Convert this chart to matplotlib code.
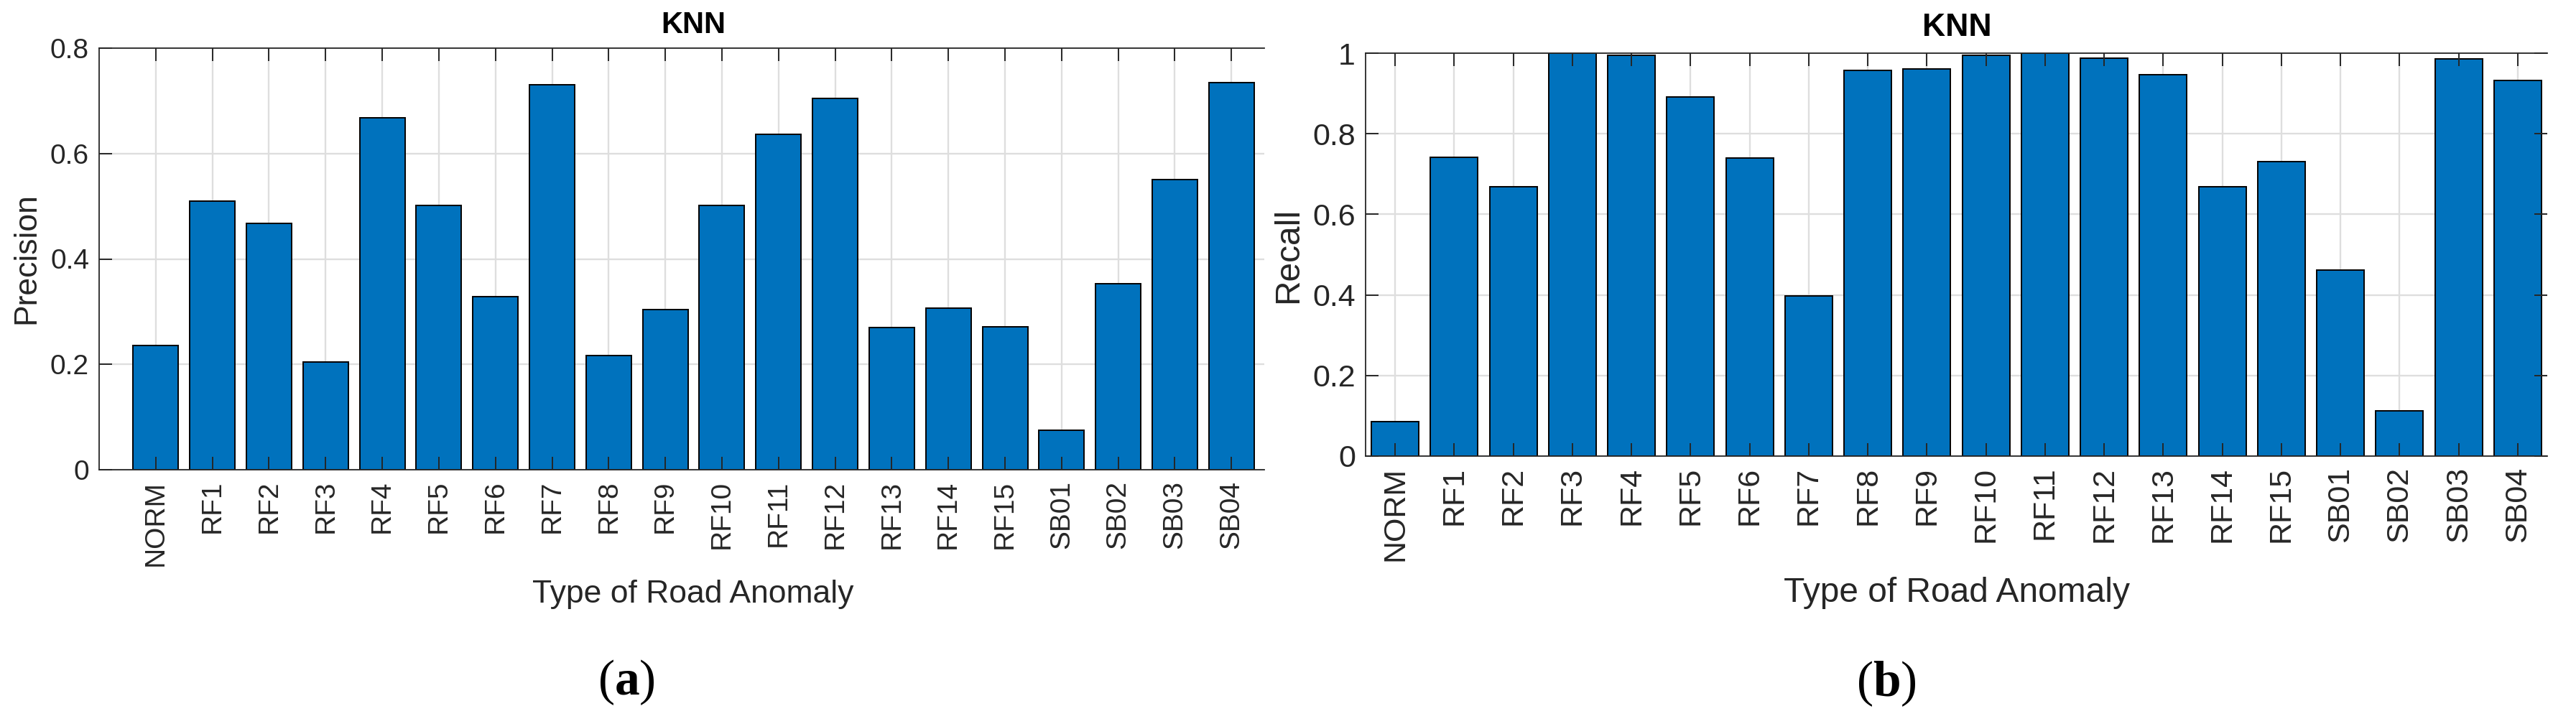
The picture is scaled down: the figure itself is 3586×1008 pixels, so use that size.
import numpy as np
import matplotlib; matplotlib.use("Agg")
import matplotlib.pyplot as plt

plt.rcParams['font.family'] = ['Liberation Sans', 'DejaVu Sans']
plt.rcParams['mathtext.fontset'] = 'custom'
plt.rcParams['mathtext.rm'] = 'Liberation Serif'
plt.rcParams['mathtext.bf'] = 'Liberation Serif:bold'

categories = ["NORM", "RF1", "RF2", "RF3", "RF4", "RF5", "RF6", "RF7", "RF8", "RF9", "RF10",
              "RF11", "RF12", "RF13", "RF14", "RF15", "SB01", "SB02", "SB03", "SB04"]
precision = [0.236, 0.510, 0.467, 0.204, 0.668, 0.501, 0.329, 0.731, 0.217, 0.304, 0.501,
             0.636, 0.704, 0.270, 0.307, 0.271, 0.075, 0.353, 0.550, 0.734]
recall = [0.085, 0.742, 0.668, 1.0, 0.994, 0.892, 0.739, 0.398, 0.958, 0.961, 0.994,
          1.0, 0.987, 0.947, 0.668, 0.730, 0.461, 0.112, 0.986, 0.932]
prec_ticks = [0, 0.2, 0.4, 0.6, 0.8]
rec_ticks = [0, 0.2, 0.4, 0.6, 0.8, 1.0]

W, H = 3586, 1008
BLUE = "#0072BD"
DARK = "#262626"
GRID = "#dedede"

fig = plt.figure(figsize=(W / 100, H / 100), dpi=100)


def px_axes(l, t, r, b):
    return fig.add_axes([l / W, 1 - b / H, (r - l) / W, (b - t) / H])


def panel(ax, vals, yticks, ylabel, xlim, tick_fs, lab_fs, title_fs, right_ticks):
    x = np.arange(len(categories))
    ax.bar(x, vals, width=0.8, color=BLUE, edgecolor="black", linewidth=1.4, zorder=1)
    ax.set_xlim(*xlim)
    ax.set_ylim(yticks[0], yticks[-1])
    for yv in yticks:
        ax.axhline(yv, color=GRID, lw=1.7, zorder=0.5)
    for xv in x:
        ax.axvline(xv, color=GRID, lw=1.7, zorder=0.5)
    ax.set_xticks(x)
    ax.set_xticklabels(categories, rotation=90, fontsize=tick_fs, color=DARK)
    ax.set_yticks(yticks)
    ax.set_yticklabels([f"{v:g}" for v in yticks], fontsize=tick_fs, color=DARK)
    ax.tick_params(axis="x", direction="in", length=13, width=1.4, color=DARK,
                   top=True, bottom=True, pad=10.5)
    ax.tick_params(axis="y", direction="in", length=13, width=1.4, color=DARK,
                   left=True, right=right_ticks, pad=10)
    for s in ["left", "top", "bottom"]:
        ax.spines[s].set_color(DARK)
        ax.spines[s].set_linewidth(1.3)
    ax.spines["right"].set_visible(False)
    return ax


# (a) precision, cropped on its right side as in the paper figure
ax1 = px_axes(138, 67, 1760, 654)
panel(ax1, precision, prec_ticks, "Precision", (-1.0, 19.58), 28, 32, 30, False)
ax2 = px_axes(1901, 74, 3546, 635)
panel(ax2, recall, rec_ticks, "Recall", (-0.5, 19.5), 31, 34.5, 32, True)

# titles and axis labels placed by pixel centre
def ftext(xp, yp, s, **kw):
    fig.text(xp / W, 1 - yp / H, s, ha="center", va="center", **kw)

ftext(965, 35, "KNN", fontsize=30, fontweight="bold", color="black")
ftext(2724, 38, "KNN", fontsize=32, fontweight="bold", color="black")
ftext(965, 828, "Type of Road Anomaly", fontsize=32, color=DARK)
ftext(2724, 825, "Type of Road Anomaly", fontsize=34.5, color=DARK)
ftext(37, 360, "Precision", fontsize=32, color=DARK, rotation=90)
ftext(1794, 355, "Recall", fontsize=34.5, color=DARK, rotation=90)
ftext(872, 950, r"$\mathrm{(}\mathbf{a}\mathrm{)}$", fontsize=50, color="black")
ftext(2626, 952, r"$\mathrm{(}\mathbf{b}\mathrm{)}$", fontsize=50, color="black")

fig.savefig("out.png", dpi=100)
plt.close(fig)
